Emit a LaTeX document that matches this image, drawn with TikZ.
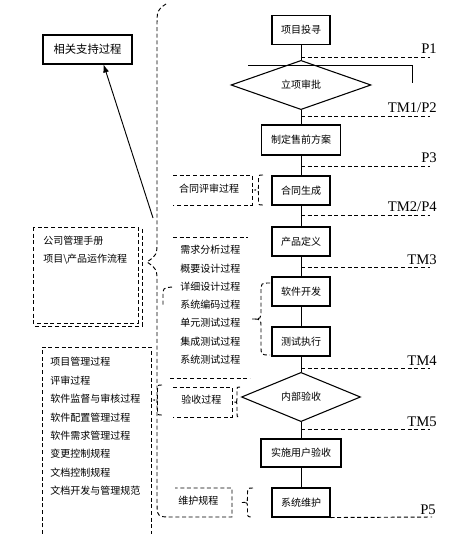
\documentclass[tikz,border=0pt]{standalone}
\usepackage{fontspec}
\setmainfont{Noto Sans CJK SC}
\newfontfamily\msfont{Liberation Serif}
\usetikzlibrary{shapes.geometric,arrows.meta}
\newcommand{\dbrace}[4]{%
\pgfmathsetmacro\brmid{(#2+#3)/2}%
\pgfmathsetmacro\brx{#1+#4/2}%
\pgfmathsetmacro\brr{#4/2}%
\draw [dashline] (#1+#4,#2) .. controls (\brx,#2) .. (\brx,#2+\brr) -- (\brx,\brmid-\brr) .. controls (\brx,\brmid) .. (#1,\brmid) .. controls (\brx,\brmid) .. (\brx,\brmid+\brr) -- (\brx,#3-\brr) .. controls (\brx,#3) .. (#1+#4,#3);%
}

\begin{document}
\begin{tikzpicture}[x=0.75pt, y=-0.75pt,
  font=\fontsize{7.5}{9}\selectfont,
  flowbox/.style={draw, line width=0.8pt, minimum width=43.5pt, minimum height=21.75pt, inner sep=0pt},
  decision/.style={draw, line width=0.8pt, diamond, minimum height=30pt, inner sep=0pt},
  flow/.style={line width=0.7pt},
  dashline/.style={line width=0.7pt, dash pattern=on 3pt off 2pt},
  mslabel/.style={font=\msfont\fontsize{11}{11}\selectfont, anchor=base east, inner sep=0pt}]
\useasboundingbox (0,0) rectangle (460,534);
\node[flowbox] (seek) at (301,30) {项目投寻};
\node[decision, minimum width=105pt] (approve) at (301,85) {立项审批};
\node[flowbox, minimum width=59.25pt, minimum height=22.5pt] (presale) at (301,140) {制定售前方案};
\node[flowbox] (contract) at (301,190.5) {合同生成};
\node[flowbox] (define) at (301,241.5) {产品定义};
\node[flowbox] (dev) at (301,291.5) {软件开发};
\node[flowbox] (test) at (301,341.5) {测试执行};
\node[decision, minimum width=89.25pt] (check) at (301,397) {内部验收};
\node[flowbox, minimum width=60pt, minimum height=21pt] (accept) at (301,453) {实施用户验收};
\node[flowbox] (maint) at (301,502.5) {系统维护};
\foreach \a/\b in {seek/approve,approve/presale,presale/contract,contract/define,define/dev,dev/test,test/check,check/accept,accept/maint} \draw[flow] (\a) -- (\b);
\draw[flow] (248,65) -- (412,65) -- (412,83);
\foreach \y/\t in {57/P1,116/{TM1/P2},166/P3,215/{TM2/P4},267/TM3,368/TM4,429/TM5} {
  \draw[dashline] (301,\y) -- (430,\y);
  \node[mslabel] (ms\y) at (437,\y-3) {\t};
}
\draw[dashline] (maint.south east) -- (432,517);
\node[mslabel] (ms517) at (436,514) {P5};
\node[draw, line width=0.8pt, minimum width=66.75pt, minimum height=21.75pt, font=\fontsize{8.5}{9}\selectfont] (support) at (87.5,49.5) {相关支持过程};
\coordinate (armfoot) at (153,218);
\draw[flow, -{Latex[length=6pt,width=4.5pt]}] (armfoot) -- (support.-43);
\draw[dashline] (33,227) rectangle (138,323);
\draw[dashline] (142,229) -- (142,326) -- (35,326);
\foreach \t [count=\i] in {公司管理手册,项目\textbackslash 产品运作流程} \node[anchor=west, inner sep=0pt] (man\i) at (43,{241+18*(\i-1)}) {\t};
\draw[dashline] (42,534) -- (42,347) -- (151,347) -- (151,534);
\foreach \t [count=\i] in {项目管理过程,评审过程,软件监督与审核过程,软件配置管理过程,软件需求管理过程,变更控制规程,文档控制规程,文档开发与管理规范} \node[anchor=west, inner sep=0pt] (sup\i) at (50,{362+18.4*(\i-1)}) {\t};
\draw[dashline] (166,4) .. controls (157,10) .. (157,28) -- (157,240) .. controls (157,255) .. (147,262) .. controls (157,269) .. (157,284) -- (157,500) .. controls (157,517) .. (172,517) -- (232,517) -- (232,488) -- (175,488);
\node[anchor=west, inner sep=0pt] (keep) at (178,501) {维护规程};
\draw[dashline] (173,175) -- (252,175) -- (252,205) -- (173,205);
\node[inner sep=0pt] (review) at (209,189) {合同评审过程};
\draw[dashline] (173,237) -- (248,237);
\foreach \t [count=\i] in {需求分析过程,概要设计过程,详细设计过程,系统编码过程,单元测试过程,集成测试过程,系统测试过程} \node[anchor=west, inner sep=0pt] (stage\i) at (180,{250+18.3*(\i-1)}) {\t};
\draw[dashline] (172,287) .. controls (163,288) .. (163,296) -- (163,306);
\draw[dashline] (170,378) -- (250,378);
\draw[dashline] (173,387) -- (232,387) -- (232,417) -- (173,417);
\node[anchor=west, inner sep=0pt] (ack) at (181,400) {验收过程};
\dbrace{254}{175}{205}{9}
\dbrace{252}{283}{355}{18}
\dbrace{234}{387}{417}{6}
\dbrace{242}{488}{517}{11}
\dbrace{153}{385}{415}{9}
\end{tikzpicture}
\end{document}
